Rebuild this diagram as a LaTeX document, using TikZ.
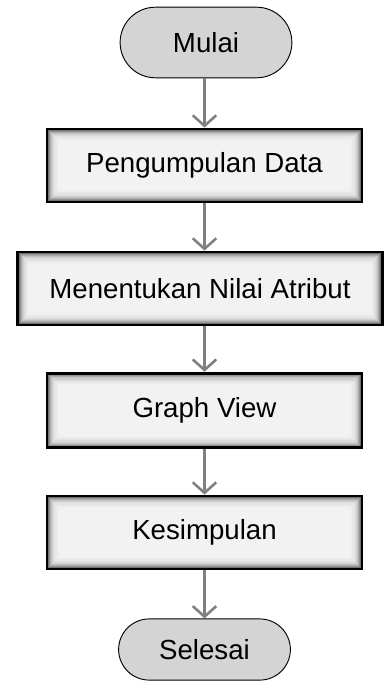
\documentclass[tikz,border=0pt]{standalone}
\usepackage{fontspec}
\setmainfont{Liberation Sans}
\usetikzlibrary{arrows.meta,shapes.misc}

\begin{document}
\begin{tikzpicture}[x=0.85pt,y=-0.85pt,>={Straight Barb[length=9pt,width=20pt]},
    every node/.style={align=center,font=\fontsize{23.5}{28}\selectfont},
    terminal/.style={draw,line width=0.8pt,fill=black!17,rounded rectangle,
      minimum width=146pt,inner sep=0pt},
    procbox/.style={draw,line width=2.4pt,minimum height=62pt,inner sep=0pt,
      path picture={
        \foreach \k/\c in {0/72,1/55,2/42,3/32,4/24,5/18,6/14,7/11,8/9,9/7,10/6,11/5}
          \fill[black!\c] ([shift={(\k*0.9pt,\k*0.9pt)}]path picture bounding box.south west)
            rectangle ([shift={(-\k*0.9pt,-\k*0.9pt)}]path picture bounding box.north east);
      }},
    flow/.style={->,line width=2.2pt,black!50}]
  \useasboundingbox (0,0) rectangle (384,690);
  \node[terminal,minimum height=60pt] (mulai) at (206,42.5) {Mulai};
  \node[procbox,minimum width=267.75pt] (kumpul) at (204.5,165.5) {Pengumpulan Data};
  \node[procbox,minimum width=310pt] (nilai) at (200,288.5) {Menentukan Nilai Atribut};
  \node[procbox,minimum width=267.75pt,minimum height=63.5pt] (graph) at (204.5,410.5) {Graph View};
  \node[procbox,minimum width=267.75pt] (simpul) at (204.5,532.5) {Kesimpulan};
  \node[terminal,minimum height=52pt] (selesai) at (204.5,649.5) {Selesai};
  \draw[flow] (mulai.south -| kumpul.north) -- (kumpul.north);
  \draw[flow] (kumpul.south) -- (kumpul.south |- nilai.north);
  \draw[flow] (kumpul.south |- nilai.south) -- (graph.north);
  \draw[flow] (graph.south) -- (simpul.north);
  \draw[flow] (simpul.south) -- (selesai.north);
\end{tikzpicture}
\end{document}
